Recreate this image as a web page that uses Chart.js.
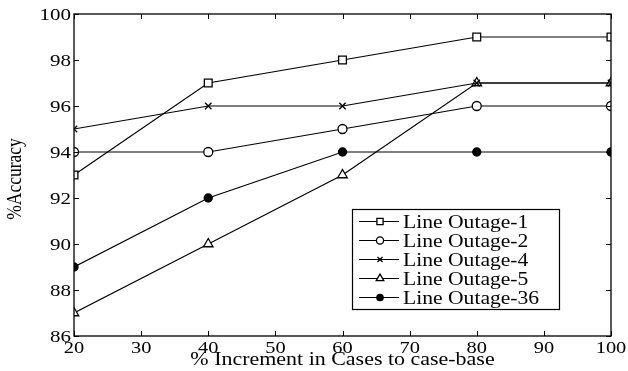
<!DOCTYPE html>
<html><head><meta charset="utf-8">
<script src="https://cdn.jsdelivr.net/npm/chart.js@4"></script>
<style>html,body{margin:0;padding:0;background:#fff}#w{width:628px;height:371px}</style>
</head><body><div id="w"><canvas id="c"></canvas></div>
<script>
const increments = [20, 40, 60, 80, 100];
const outage1 = [93, 97, 98, 99, 99];
const outage2 = [94, 94, 95, 96, 96];
const outage4 = [95, 96, 96, 97, 97];
const outage5 = [87, 90, 93, 97, 97];
const outage36 = [89, 92, 94, 94, 94];
const seriesNames = ['Line Outage-1', 'Line Outage-2', 'Line Outage-4', 'Line Outage-5', 'Line Outage-36'];
const xTicks = [20, 30, 40, 50, 60, 70, 80, 90, 100];
const yTicks = [86, 88, 90, 92, 94, 96, 98, 100];
const xTitle = '% Increment in Cases to case-base';
const yTitle = '%Accuracy';

const FONT = '"Liberation Serif", "Times New Roman", serif';
const SX = 1.2; // horizontal stretch of the reference's text
const pts = arr => arr.map((v, i) => ({x: increments[i], y: v}));
const styles = [
  {pointStyle: 'rect', pointRadius: 5.5, bg: '#fff'},
  {pointStyle: 'circle', pointRadius: 4.5, bg: '#fff'},
  {pointStyle: 'crossRot', pointRadius: 4.5, bg: '#fff'},
  {pointStyle: 'triangle', pointRadius: 5.5, bg: '#fff'},
  {pointStyle: 'circle', pointRadius: 4, bg: '#000'}
];
const allData = [outage1, outage2, outage4, outage5, outage36];
const datasets = allData.map((d, i) => ({
  label: seriesNames[i], data: pts(d),
  borderColor: '#000', borderWidth: 1.2,
  pointStyle: styles[i].pointStyle, pointRadius: styles[i].pointRadius,
  pointBackgroundColor: styles[i].bg, pointBorderColor: '#000', pointBorderWidth: 1.3,
  tension: 0, fill: false
}));

function txt(ctx, s, x, y, align, size, sx, baseline) {
  ctx.save();
  ctx.translate(x, y);
  ctx.scale(sx, 1);
  ctx.font = size + 'px ' + FONT;
  ctx.textAlign = align;
  ctx.textBaseline = baseline || 'alphabetic';
  ctx.fillStyle = '#000';
  ctx.fillText(s, 0, 0);
  ctx.restore();
}

const framePlugin = {
  id: 'frame',
  afterDraw(chart) {
    const ctx = chart.ctx, a = chart.chartArea;
    const xs = chart.scales.x, ys = chart.scales.y;
    ctx.save();
    ctx.strokeStyle = '#000'; ctx.lineWidth = 1.3;
    ctx.strokeRect(a.left, a.top, a.right - a.left, a.bottom - a.top);
    ctx.lineWidth = 1;
    const tl = 5;
    ctx.beginPath();
    xTicks.forEach(t => {
      const px = Math.round(xs.getPixelForValue(t)) + 0.5;
      ctx.moveTo(px, a.bottom); ctx.lineTo(px, a.bottom - tl);
      ctx.moveTo(px, a.top); ctx.lineTo(px, a.top + tl);
    });
    yTicks.forEach(t => {
      const py = Math.round(ys.getPixelForValue(t)) + 0.5;
      ctx.moveTo(a.left, py); ctx.lineTo(a.left + tl, py);
      ctx.moveTo(a.right, py); ctx.lineTo(a.right - tl, py);
    });
    ctx.stroke();
    // tick labels
    xTicks.forEach(t => txt(ctx, String(t), xs.getPixelForValue(t), 353, 'center', 17, SX));
    yTicks.forEach(t => txt(ctx, String(t), 71, ys.getPixelForValue(t) + 6, 'right', 17.5, SX));
    // axis titles
    txt(ctx, xTitle, (a.left + a.right) / 2, 365, 'center', 18, 1.22);
    ctx.save();
    ctx.translate(21, 179);
    ctx.rotate(-Math.PI / 2);
    ctx.scale(1, 1.2);
    ctx.font = '17.5px ' + FONT;
    ctx.textAlign = 'center'; ctx.textBaseline = 'alphabetic';
    ctx.fillStyle = '#000';
    ctx.fillText(yTitle, 0, 0);
    ctx.restore();
    // legend
    const lx = 352, ly = 209, rowH = 19, boxW = 207, boxH = 100;
    ctx.fillStyle = '#fff';
    ctx.fillRect(lx, ly, boxW, boxH);
    ctx.strokeStyle = '#000'; ctx.lineWidth = 1.2;
    ctx.strokeRect(lx + 0.5, ly + 0.5, boxW, boxH);
    seriesNames.forEach((n, i) => {
      const cy = ly + 12.5 + i * rowH;
      ctx.beginPath(); ctx.moveTo(lx + 7, cy); ctx.lineTo(lx + 47, cy);
      ctx.strokeStyle = '#000'; ctx.lineWidth = 1.2; ctx.stroke();
      ctx.fillStyle = styles[i].bg; ctx.lineWidth = 1.3;
      Chart.helpers.drawPoint(ctx, {pointStyle: styles[i].pointStyle, radius: styles[i].pointRadius * 0.8, borderWidth: 1.3, rotation: 0}, lx + 28, cy);
      txt(ctx, n, lx + 51, cy + 6, 'left', 18, 1.2);
    });
    ctx.restore();
  }
};

new Chart(document.getElementById('c'), {
  type: 'line',
  data: {datasets},
  options: {
    responsive: true, maintainAspectRatio: false, animation: false,
    layout: {padding: {left: 0, right: 17, top: 14, bottom: 0}},
    plugins: {legend: {display: false}, tooltip: {enabled: false}},
    scales: {
      x: {
        type: 'linear', min: 20, max: 100,
        afterBuildTicks: s => { s.ticks = xTicks.map(v => ({value: v})); },
        afterFit: s => { s.height = 35; },
        grid: {display: false, drawTicks: false}, border: {display: false},
        ticks: {display: false}
      },
      y: {
        min: 86, max: 100,
        afterBuildTicks: s => { s.ticks = yTicks.map(v => ({value: v})); },
        afterFit: s => { s.width = 74; },
        grid: {display: false, drawTicks: false}, border: {display: false},
        ticks: {display: false}
      }
    }
  },
  plugins: [framePlugin]
});
</script>
</body></html>
